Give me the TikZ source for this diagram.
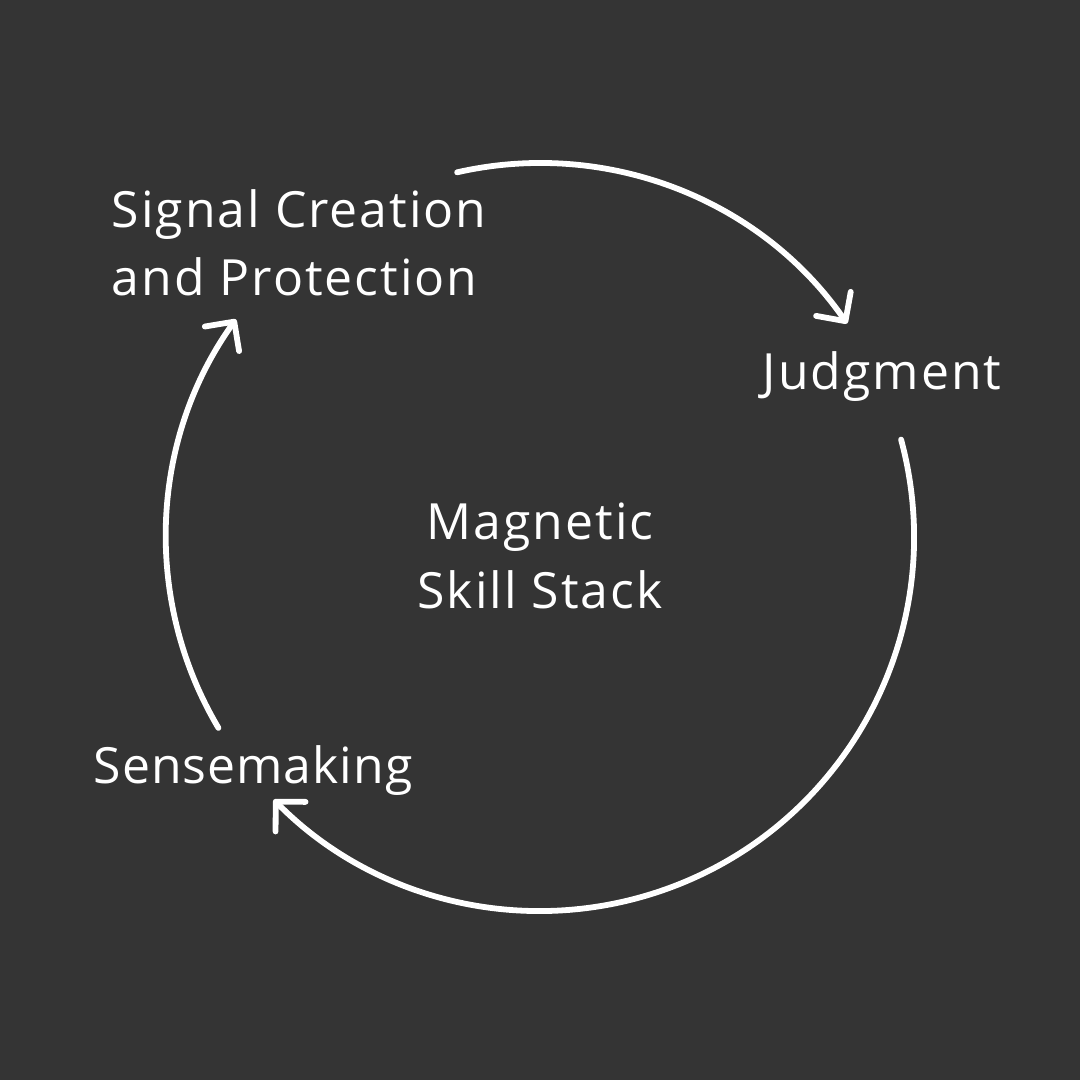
\documentclass[tikz,border=0pt]{standalone}
\usepackage{fontspec}
\setmainfont{Open Sans}[LetterSpace=4]
\usetikzlibrary{arrows.meta,calc}
\definecolor{bg}{RGB}{52,52,52}
\begin{document}
\begin{tikzpicture}[
  lbl/.style={text=white, font=\fontsize{14.2}{19.4}\selectfont, inner sep=0pt},
  cyc/.style={draw=white, line width=1.65pt, line cap=round,
    -{Straight Barb[length=6pt, width=12pt, line width=1.65pt, line cap=round, line join=round]}}
]
\fill[bg] (0,0) rectangle (10.8,-10.8);
\useasboundingbox (0,0) rectangle (10.8,-10.8);
\coordinate (c) at (5.40,-5.37);
% labels
\node[lbl, anchor=base west, align=left] (signal) at (1.11,-2.96) {Signal Creation\\and Protection};
\node[lbl, anchor=base west] (judg) at (7.62,-3.90) {Judgment};
\node[lbl, anchor=base, align=center] (mss) at (5.40,-6.08) {Magnetic\\Skill Stack};
\node[lbl, anchor=base west] (sense) at (0.93,-7.83) {\addfontfeature{LetterSpace=2}Sensemaking};
% arcs
\coordinate (a1) at ($(c)+(102.8:3.74)$);
\coordinate (a2) at ($(c)+(15.1:3.74)$);
\coordinate (a3) at ($(c)+(210.7:3.74)$);
\draw[cyc] (a1) arc[start angle=102.8, end angle=34.8, radius=3.74];
\draw[cyc] (a2) arc[start angle=15.1, end angle=-135.4, radius=3.74];
\draw[cyc] (a3) arc[start angle=210.7, end angle=144.4, radius=3.74];
\end{tikzpicture}
\end{document}
